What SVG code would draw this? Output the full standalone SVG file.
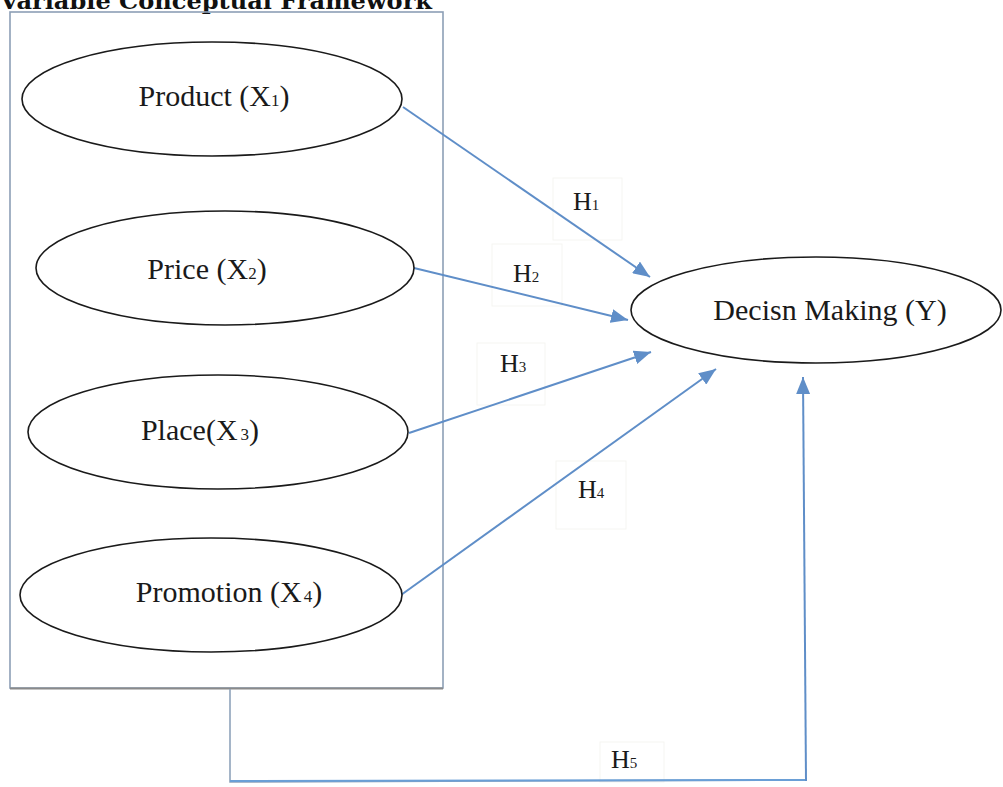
<svg xmlns="http://www.w3.org/2000/svg" width="1003" height="787" viewBox="0 0 1003 787">
  <style>
    .node ellipse { fill: #ffffff; stroke: #1a1a1a; stroke-width: 1.6; }
    .lbl { font-family: "Liberation Serif", "Times New Roman", serif; font-size: 30px; fill: #1a1a1a; text-anchor: middle; }
    .sub { font-size: 17px; }
    .h { font-family: "Liberation Serif", "Times New Roman", serif; font-size: 26px; fill: #1a1a1a; }
    .hs { font-size: 15px; }
    .conn { stroke: #5f8ec8; stroke-width: 2; fill: none; }
    .hbox { fill: none; stroke: #f5f5f2; stroke-width: 1; }
  </style>
  <defs>
    <marker id="arr" markerUnits="userSpaceOnUse" markerWidth="18" markerHeight="14" refX="17" refY="7" orient="auto">
      <path d="M0,0 L17,7 L0,14 Z" fill="#5f8ec8"/>
    </marker>
  </defs>
  <rect width="1003" height="787" fill="#ffffff"/>

  <text x="0" y="9" font-family="'DejaVu Serif', 'Liberation Serif', serif" font-weight="bold" font-size="22" textLength="432" lengthAdjust="spacingAndGlyphs" fill="#111">Variable Conceptual Framework</text>

  <g id="frame">
    <rect x="10" y="12" width="433" height="676" fill="none" stroke="#8d9fb6" stroke-width="1.6"/>
    <line x1="10" y1="688.5" x2="443" y2="688.5" stroke="#8a8a8a" stroke-width="2"/>
  </g>

  <g id="label-boxes">
    <rect class="hbox" x="553" y="178" width="69" height="62"/>
    <rect class="hbox" x="492" y="244" width="70" height="62"/>
    <rect class="hbox" x="477" y="343" width="68" height="62"/>
    <rect class="hbox" x="556" y="461" width="70" height="68"/>
    <rect class="hbox" x="600" y="742" width="64" height="40"/>
  </g>

  <g id="connectors">
    <line class="conn" x1="403" y1="107" x2="650" y2="277" marker-end="url(#arr)"/>
    <line class="conn" x1="414" y1="268" x2="628" y2="320" marker-end="url(#arr)"/>
    <line class="conn" x1="409" y1="433" x2="651" y2="352" marker-end="url(#arr)"/>
    <line class="conn" x1="401" y1="595" x2="716" y2="369" marker-end="url(#arr)"/>
    <polyline points="230,689 230,782 806,780" fill="none" stroke="#8fa3bb" stroke-width="1.6"/>
    <line x1="230" y1="781" x2="806" y2="780" stroke="#6a9fd6" stroke-width="2"/>
    <line class="conn" x1="806" y1="781" x2="803" y2="377" stroke="#6a9fd6" marker-end="url(#arr)"/>
  </g>

  <g id="node-product" class="node">
    <ellipse cx="212" cy="99" rx="190" ry="57"/>
    <text class="lbl" x="214" y="106">Product (X<tspan class="sub">1</tspan>)</text>
  </g>
  <g id="node-price" class="node">
    <ellipse cx="225" cy="268" rx="189" ry="57"/>
    <text class="lbl" x="207" y="279">Price (X<tspan class="sub">2</tspan>)</text>
  </g>
  <g id="node-place" class="node">
    <ellipse cx="218" cy="432" rx="190" ry="57"/>
    <text class="lbl" x="200" y="440">Place(X<tspan class="sub" dx="3">3</tspan>)</text>
  </g>
  <g id="node-promotion" class="node">
    <ellipse cx="211" cy="595" rx="191" ry="57"/>
    <text class="lbl" x="229" y="602">Promotion (X<tspan class="sub" dx="2">4</tspan>)</text>
  </g>
  <g id="node-decision" class="node">
    <ellipse cx="816" cy="310" rx="185" ry="53"/>
    <text class="lbl" x="830" y="320">Decisn Making (Y)</text>
  </g>

  <g id="hyp-labels">
    <text class="h" x="573" y="210">H<tspan class="hs">1</tspan></text>
    <text class="h" x="513" y="282">H<tspan class="hs">2</tspan></text>
    <text class="h" x="500" y="372">H<tspan class="hs">3</tspan></text>
    <text class="h" x="578" y="498">H<tspan class="hs">4</tspan></text>
    <text class="h" x="611" y="768">H<tspan class="hs">5</tspan></text>
  </g>
</svg>
